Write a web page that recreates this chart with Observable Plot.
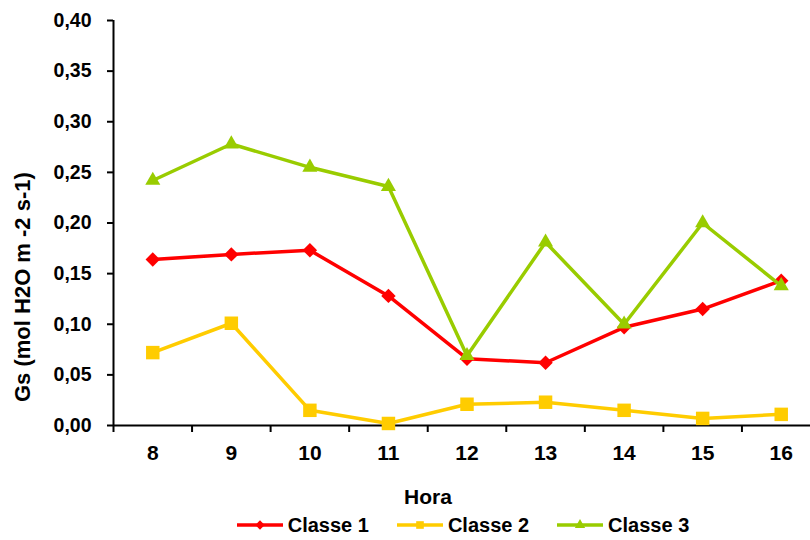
<!DOCTYPE html>
<html>
<head>
<meta charset="utf-8">
<script src="https://cdn.jsdelivr.net/npm/d3@7"></script>
<script src="https://cdn.jsdelivr.net/npm/@observablehq/plot@0.6"></script>
<style>
  html, body { margin: 0; padding: 0; background: #fff; overflow: hidden; }
  #wrap { position: relative; width: 810px; height: 540px; font-family: "Liberation Sans", Arial, sans-serif; }
  #legend { position: absolute; left: 58px; top: 510px; width: 810px; height: 30px; display: flex; justify-content: center; align-items: center; font-weight: bold; font-size: 20px; color: #000; }
  .item { display: flex; align-items: center; margin: 0 14px; }
  .item svg { margin-right: 5px; }
</style>
</head>
<body>
<div id="wrap"></div>
<script>
const hours = [8, 9, 10, 11, 12, 13, 14, 15, 16];
const classe1 = [0.164, 0.169, 0.173, 0.128, 0.066, 0.062, 0.097, 0.115, 0.143];
const classe2 = [0.072, 0.101, 0.015, 0.002, 0.021, 0.023, 0.015, 0.007, 0.011];
const classe3 = [0.242, 0.278, 0.255, 0.236, 0.069, 0.181, 0.100, 0.200, 0.138];
const seriesNames = ["Classe 1", "Classe 2", "Classe 3"];
const seriesColors = ["#FF0000", "#FFCC00", "#99CC00"];
const seriesSymbols = ["diamond2", "square", "triangle"];
const seriesR = [6.5, 7.6, 5.6];
const yTicks = [0, 0.05, 0.10, 0.15, 0.20, 0.25, 0.30, 0.35, 0.40];
const yTitle = "Gs (mol H2O m -2 s-1)";
const xTitle = "Hora";

const values = [classe1, classe2, classe3];
const rows = seriesNames.flatMap((s, k) => hours.map((h, i) => ({hora: h, gs: values[k][i], serie: s})));
const xDomain = [hours[0] - 0.5, hours[hours.length - 1] + 0.5];
const boundaries = [xDomain[0], ...hours.map(h => h + 0.5)];
const font = "Liberation Sans, Arial, sans-serif";

const seriesMarks = seriesNames.flatMap((s, k) => {
  const d = rows.filter(r => r.serie === s);
  return [
    Plot.line(d, {x: "hora", y: "gs", stroke: seriesColors[k], strokeWidth: 3.5}),
    Plot.dot(d, {x: "hora", y: "gs", symbol: seriesSymbols[k], r: seriesR[k], fill: seriesColors[k], stroke: "none"})
  ];
});

const chart = Plot.plot({
  width: 810,
  height: 510,
  marginTop: 20,
  marginBottom: 85,
  marginLeft: 113,
  marginRight: 0,
  style: {fontFamily: font, fontWeight: "bold", background: "white", color: "black", overflow: "hidden"},
  x: {type: "linear", domain: xDomain, range: [113, 820], label: null},
  y: {domain: [0, 0.4], label: null},
  marks: [
    Plot.axisY({ticks: yTicks, tickSize: 6, tickPadding: 16, strokeWidth: 2, fontSize: 19.5, fontWeight: "bold",
      tickFormat: d => d.toFixed(2).replace(".", ","), label: null}),
    Plot.axisX({ticks: boundaries, tickSize: 7, strokeWidth: 2, tickFormat: () => "", label: null}),
    Plot.axisX({ticks: hours, tickSize: 0, tickPadding: 20, fontSize: 21, fontWeight: "bold",
      tickFormat: d => String(d), label: null}),
    Plot.text([yTitle], {text: d => d, frameAnchor: "middle", textAnchor: "start", rotate: -90, dx: -439.5, dy: 179, fontSize: 22, fontWeight: "bold"}),
    Plot.text([xTitle], {text: d => d, frameAnchor: "bottom", textAnchor: "middle", dx: -34, dy: 72, fontSize: 21, fontWeight: "bold", lineAnchor: "middle"}),
    Plot.ruleY([0], {stroke: "black", strokeWidth: 2}),
    Plot.ruleX([xDomain[0]], {stroke: "black", strokeWidth: 2}),
    ...seriesMarks
  ]
});

const wrap = document.getElementById("wrap");
wrap.appendChild(chart);

// legend
const legend = document.createElement("div");
legend.id = "legend";
const legendSizes = [4.2, 4.3, 3.8];
const symMap = {diamond2: d3.symbolDiamond2, square: d3.symbolSquare, triangle: d3.symbolTriangle};
seriesNames.forEach((s, k) => {
  const item = document.createElement("div");
  item.className = "item";
  const svg = d3.create("svg").attr("width", 46).attr("height", 16);
  svg.append("line").attr("x1", 0).attr("x2", 46).attr("y1", 8).attr("y2", 8)
    .attr("stroke", seriesColors[k]).attr("stroke-width", 3.5);
  svg.append("path").attr("transform", "translate(23,8)")
    .attr("d", d3.symbol(symMap[seriesSymbols[k]], Math.PI * legendSizes[k] ** 2)())
    .attr("fill", seriesColors[k]);
  item.appendChild(svg.node());
  const label = document.createElement("span");
  label.textContent = s;
  item.appendChild(label);
  legend.appendChild(item);
});
wrap.appendChild(legend);
</script>
</body>
</html>
